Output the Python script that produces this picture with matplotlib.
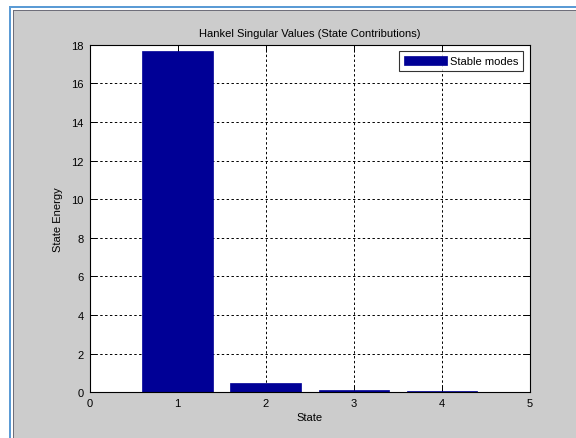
import matplotlib.pyplot as plt
from matplotlib.patches import Rectangle

plt.rcParams['font.family'] = ['Liberation Sans', 'DejaVu Sans']

# Hankel singular values per state
states = [1, 2, 3, 4]
energy = [17.68, 0.48, 0.12, 0.07]
x_ticks = [0, 1, 2, 3, 4, 5]
y_ticks = [0, 2, 4, 6, 8, 10, 12, 14, 16, 18]

W, H = 576, 439
fig = plt.figure(figsize=(W / 100, H / 100), dpi=100)
fig.patch.set_facecolor('#cccccc')


def px_rect(x0, y0, x1, y1, color):
    fig.add_artist(Rectangle((x0 / W, 1 - y1 / H), (x1 - x0) / W, (y1 - y0) / H,
                             transform=fig.transFigure, facecolor=color,
                             edgecolor='none', zorder=0))


# window frame
px_rect(0, 0, W, 7, 'white')
px_rect(0, 0, 9, H, 'white')
px_rect(9, 7, W, 9, '#5b9bd5')
px_rect(9, 7, 11, H, '#5b9bd5')
px_rect(11, 9, W, 11, 'white')
px_rect(11, 9, 13, H, 'white')
px_rect(13, 11, W, 12, '#6e6e7a')
px_rect(13, 11, 14, H, '#6e6e7a')

ax = fig.add_axes([89.5 / W, 1 - 393.3 / H, (530 - 89.5) / W, (393.3 - 45.7) / H])
ax.set_facecolor('white')

ax.bar(states, energy, width=0.8, color='#000096', edgecolor='#000096',
       linewidth=0.5, label='Stable modes', zorder=2)

ax.set_xlim(0, 5)
ax.set_ylim(0, 18)
ax.set_xticks(x_ticks)
ax.set_yticks(y_ticks)
ax.grid(True, color='black', linestyle=(0, (2.5, 2.5)), linewidth=0.7, zorder=1)
ax.set_axisbelow(True)
ax.tick_params(direction='in', length=5, width=0.7, top=True, right=True,
               labelsize=8, colors='black', pad=4)
for s in ax.spines.values():
    s.set_linewidth(0.8)
    s.set_zorder(3)

ax.set_title('Hankel Singular Values (State Contributions)', fontsize=8, pad=6)
ax.set_xlabel('State', fontsize=8, labelpad=3)
ax.set_ylabel('State Energy', fontsize=8, labelpad=6)

leg = ax.legend(loc='upper right', fontsize=8, frameon=True, fancybox=False,
                handlelength=3.8, handleheight=0.8, borderpad=0.45,
                handletextpad=0.3, borderaxespad=0.6)
leg.get_frame().set_edgecolor('black')
leg.get_frame().set_linewidth(0.8)

fig.savefig('out.png', dpi=100, facecolor=fig.get_facecolor())
